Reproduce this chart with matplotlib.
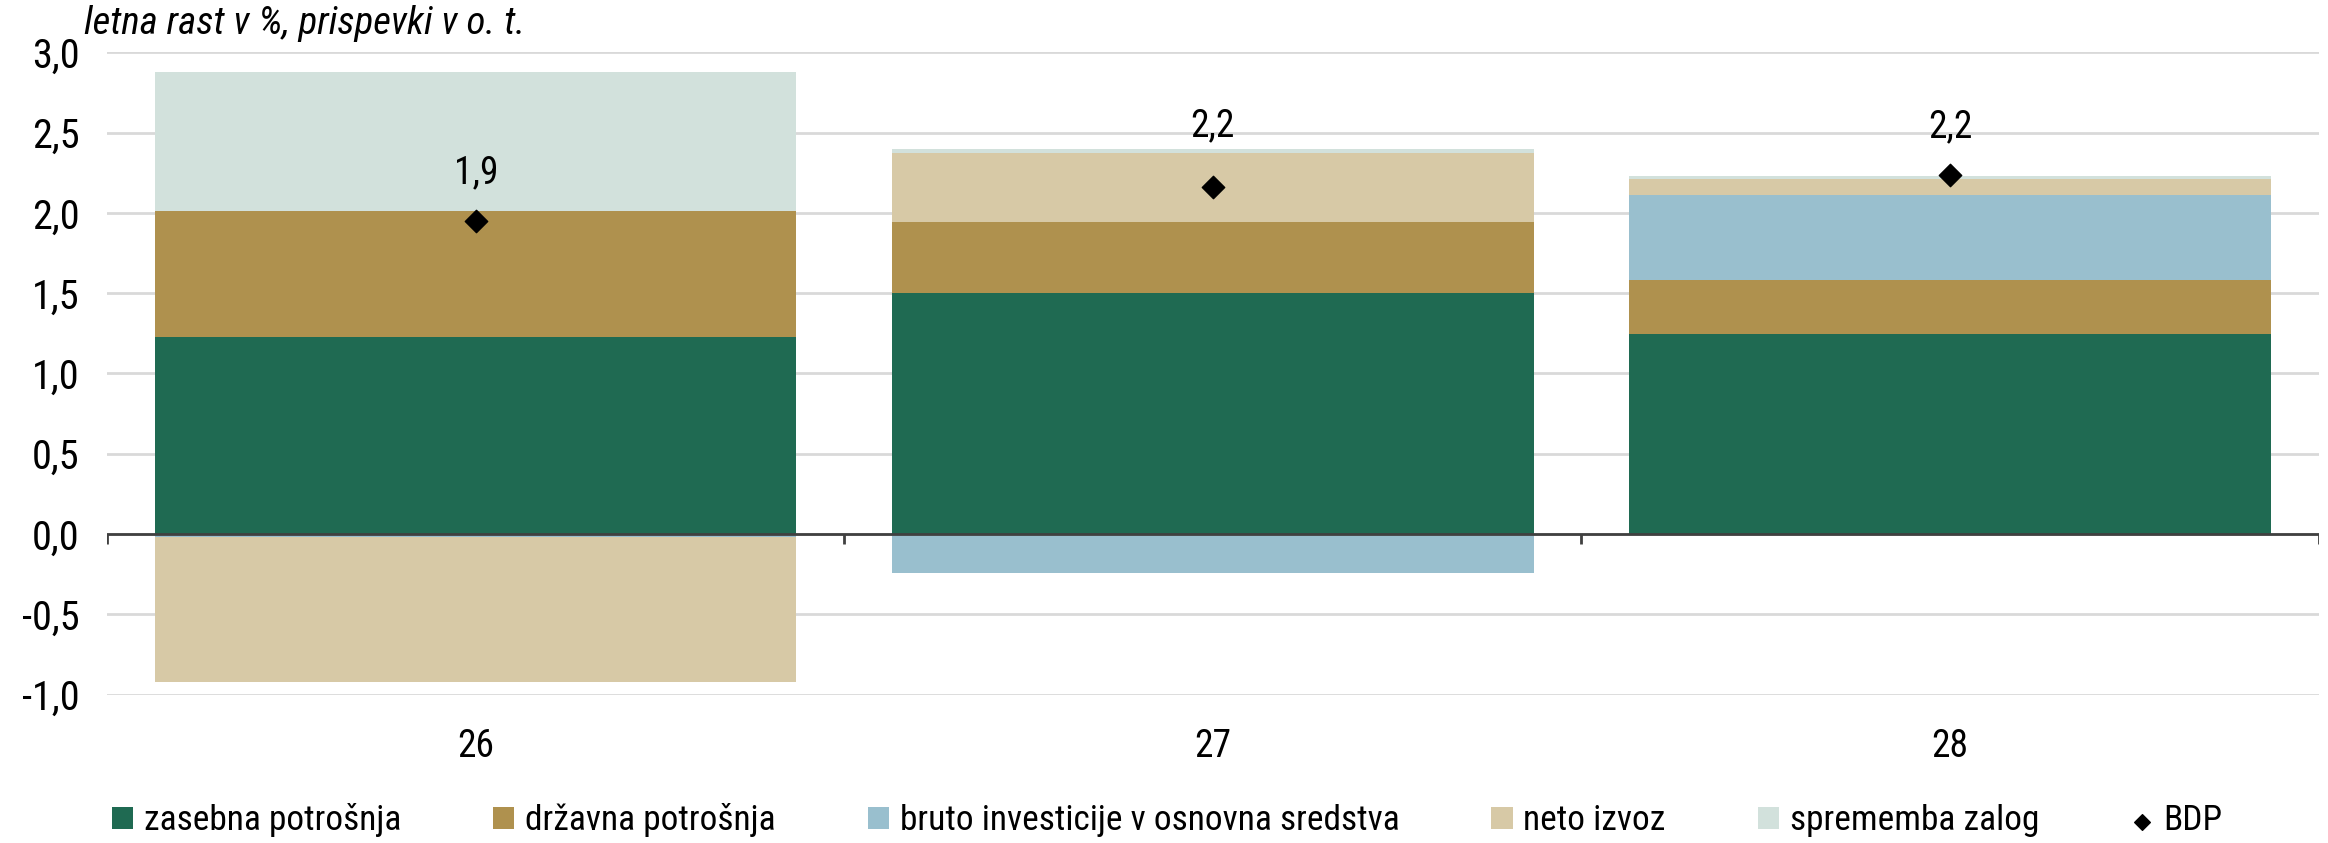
import numpy as np
import matplotlib
matplotlib.use('Agg')
import matplotlib.pyplot as plt
from matplotlib import font_manager
from matplotlib.ticker import FuncFormatter

# ozka pisava, ce obstaja
imena = {f.name for f in font_manager.fontManager.ttflist}
pisava = 'Liberation Sans'
for kandidat in ['Liberation Sans Narrow', 'Arial Narrow', 'Roboto Condensed',
                 'Open Sans Condensed', 'DejaVu Sans Condensed']:
    if kandidat in imena:
        pisava = kandidat
        break
plt.rcParams['font.family'] = [pisava, 'DejaVu Sans']

# podatki
leta = ['26', '27', '28']
zasebna = [1.23, 1.50, 1.245]
drzavna = [0.78, 0.44, 0.335]
bruto_inv = [-0.02, -0.24, 0.53]
neto_izvoz = [-0.90, 0.435, 0.10]
zaloge = [0.87, 0.02, 0.02]
bdp = [1.95, 2.16, 2.235]
bdp_oznake = ['1,9', '2,2', '2,2']

serije = [
    ('zasebna potrošnja', zasebna, '#1F6A52'),
    ('državna potrošnja', drzavna, '#AF914E'),
    ('bruto investicije v osnovna sredstva', bruto_inv, '#99BFCE'),
    ('neto izvoz', neto_izvoz, '#D7C9A6'),
    ('sprememba zalog', zaloge, '#D2E1DC'),
]

fig = plt.figure(figsize=(23.28, 8.43), dpi=100)
ax = fig.add_axes([0.046, 0.176, 0.950, 0.762])

x = np.arange(len(leta))
pos_base = np.zeros(len(leta))
neg_base = np.zeros(len(leta))
for ime, vals, barva in serije:
    vals = np.array(vals)
    base = np.where(vals >= 0, pos_base, neg_base)
    ax.bar(x, vals, bottom=base, width=0.87, color=barva, label=ime, zorder=2)
    pos_base += np.where(vals >= 0, vals, 0)
    neg_base += np.where(vals < 0, vals, 0)

ax.scatter(x, bdp, marker='D', s=130, color='black', zorder=4, label='BDP')
odmiki = [48, 61, 48]
for xi, yi, t, o in zip(x, bdp, bdp_oznake, odmiki):
    ax.annotate(t, (xi, yi), xytext=(0, o * 0.72), textcoords='offset points',
                ha='center', va='center', fontsize=27)

ax.set_xlim(-0.5, 2.5)
ax.set_ylim(-1.0, 3.0)
ax.set_yticks(np.arange(-1.0, 3.01, 0.5))
ax.yaxis.set_major_formatter(FuncFormatter(lambda v, p: f'{v:.1f}'.replace('.', ',')))
ax.grid(axis='y', color='#D9D9D9', linewidth=2, zorder=0)
ax.axhline(0, color='#404040', linewidth=2, zorder=3)
ax.vlines([-0.5, 0.5, 1.5, 2.5], -0.06, 0, color='#404040', linewidth=2, zorder=3)

for s in ax.spines.values():
    s.set_visible(False)
ax.set_xticks(x)
ax.set_xticklabels(leta)
ax.tick_params(axis='x', length=0, pad=24, labelsize=27)
ax.tick_params(axis='y', length=0, pad=20, labelsize=29)

fig.text(0.036, 0.972, 'letna rast v %, prispevki v o. t.', style='italic',
         fontsize=28, va='center', ha='left')

# legenda, BDP na koncu
h, l = ax.get_legend_handles_labels()
h = h[1:] + h[:1]
l = l[1:] + l[:1]
fig.legend(h, l, loc='center left', bbox_to_anchor=(0.048, 0.027), ncol=6,
           frameon=False, fontsize=25.5, handlelength=0.6, handleheight=0.6,
           handletextpad=0.3, markerscale=0.7, borderaxespad=0, borderpad=0,
           columnspacing=2.6)

fig.savefig('out.png', dpi=100)
